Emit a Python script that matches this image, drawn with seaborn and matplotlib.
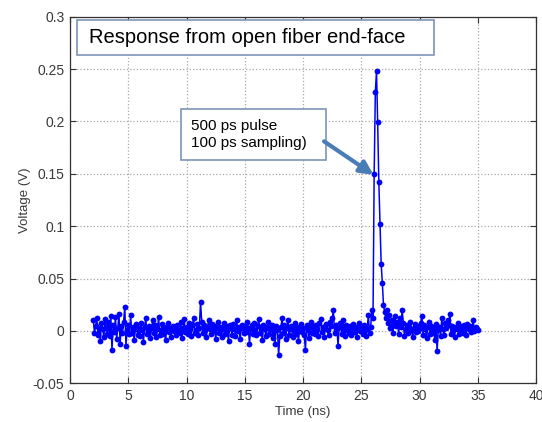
import numpy as np
import pandas as pd
import matplotlib
matplotlib.use("Agg")
import matplotlib.pyplot as plt
from matplotlib.patches import Rectangle
from matplotlib.ticker import FuncFormatter
import seaborn as sns

# sampling: 100 ps steps from 2 ns to 35 ns
t_start = 2.0
dt = 0.1

volt_mv = [
    10, -2, 5, 12, -4, 3, -10, 8, 2, -6,        # 2.x
    11, 4, -3, 9, -5, 14, -18, 6, -1, 13,       # 3.x
    -8, 3, 16, -12, 5, -2, 9, 23, -14, 1,       # 4.x
    6, -3, 15, -2, 4, -9, 2, 7, -4, 3,          # 5.x
    -5, 8, 1, -11, 4, 12, -3, 0, 5, -7,         # 6.x
    3, 10, -2, 6, -6, 2, 13, -4, 1, 7,          # 7.x
    -3, 4, -9, 2, 8, -1, 3, -6, 5, 0,           # 8.x
    2, -4, 6, 1, -2, 9, -7, 3, 11, -1,          # 9.x
    4, -3, 8, 2, -5, 6, 12, -2, 1, 7,           # 10.x
    -4, 3, 28, 9, -2, 6, 1, -6, 4, 10,          # 11.x
    2, -3, 7, 0, 5, -8, 3, 9, -2, 4,            # 12.x
    -6, 2, 8, -3, 5, 1, -10, 6, 3, -4,          # 13.x
    7, 2, -5, 10, 0, 4, -8, 3, 6, -2,           # 14.x
    5, -1, 9, 3, -12, 2, 6, -3, 8, 1,           # 15.x
    -4, 5, 11, -2, 3, -9, 6, 2, -5, 4,          # 16.x
    9, -3, 2, 6, -7, 3, -12, 5, 1, -23,         # 17.x
    -5, 4, 12, -2, 6, -8, 3, 10, -4, 2,         # 18.x
    5, -6, 1, 8, -3, 4, -10, 2, 7, -1,          # 19.x
    3, -4, -18, 6, 1, -7, 4, 9, -2, 5,          # 20.x
    -3, 6, 2, -5, 8, 11, -1, 4, -6, 3,          # 21.x
    7, 1, -4, 9, 5, 12, 20, -2, 6, 3,           # 22.x
    -14, 4, 8, -3, 10, 2, -5, 6, 1, -2,         # 23.x
    5, -4, 3, 7, -1, 4, -6, 2, 8, 0,            # 24.x
    3, -3, 6, 1, -5, 2, 15, -2, 4, 20,          # 25.x
    12, 150, 228, 248, 199, 142, 102, 64, 46, 25,  # 26.x (pulse)
    18, 12, 20, 8, 15, 3, 10, -2, 6, 14,        # 27.x
    5, 9, -3, 12, 4, 20, 8, -5, 2, 6,           # 28.x
    -2, 4, 9, 1, -6, 3, 7, -1, 5, 0,            # 29.x
    3, 8, 14, -4, 6, 2, -7, 4, 9, -3,           # 30.x
    5, -2, 3, -9, 7, -19, 1, 4, -5, 12,         # 31.x
    2, -4, 8, 3, 10, 6, 16, -3, 5, 1,           # 32.x
    -6, 4, 2, 8, -3, 5, 1, -2, 6, 3,            # 33.x
    -4, 7, 2, 5, -1, 3, 10, 0, 4, 2,            # 34.x
    1,                                          # 35.0
]

x_ticks = [0, 5, 10, 15, 20, 25, 30, 35, 40]
y_ticks = [-0.05, 0, 0.05, 0.1, 0.15, 0.2, 0.25, 0.3]

title_text = "Response from open fiber end-face"
note_text = "500 ps pulse\n100 ps sampling)"

df = pd.DataFrame({
    "time": t_start + dt * np.arange(len(volt_mv)),
    "volt": np.array(volt_mv) / 1000.0,
})

sns.set_theme(style="ticks")
plt.rcParams["font.family"] = ["Liberation Sans", "DejaVu Sans"]

fig = plt.figure(figsize=(5.42, 4.22), dpi=100)
ax = fig.add_axes([0.1292, 0.0917, 0.860, 0.8687])

sns.lineplot(data=df, x="time", y="volt", ax=ax, color="#0000ff",
             linewidth=1.1, marker="o", markersize=4.2, markeredgewidth=0,
             estimator=None, errorbar=None)

ax.set_xlim(0, 40)
ax.set_ylim(-0.05, 0.3)
ax.set_xticks(x_ticks)
ax.set_yticks(y_ticks)
ax.yaxis.set_major_formatter(FuncFormatter(lambda v, p: f"{v:g}"))
ax.tick_params(direction="in", length=4, width=0.8, top=True, right=True,
               labelsize=10, labelcolor="#3a3a3a", color="#333333", pad=4)
ax.grid(True, linestyle=":", color="#a8a8a8", linewidth=0.9)
for s in ax.spines.values():
    s.set_color("#333333")
    s.set_linewidth(0.9)

ax.set_xlabel("Time (ns)", fontsize=9.5, color="#3a3a3a", labelpad=2)
ax.set_ylabel("Voltage (V)", fontsize=9.5, color="#3a3a3a", labelpad=1)

# title box
ax.add_patch(Rectangle((0.015, 0.895), 0.765, 0.095, transform=ax.transAxes,
                       facecolor="white", edgecolor="#7d95b8", linewidth=1.2,
                       zorder=5))
ax.text(0.041, 0.9425, title_text, transform=ax.transAxes, fontsize=14.5,
        va="center", ha="left", color="black", zorder=6)

# note box
ax.add_patch(Rectangle((0.239, 0.610), 0.311, 0.137, transform=ax.transAxes,
                       facecolor="white", edgecolor="#7d95b8", linewidth=1.2,
                       zorder=5))
ax.text(0.26, 0.678, note_text, transform=ax.transAxes, fontsize=11,
        va="center", ha="left", color="black", linespacing=1.3, zorder=6)

ax.annotate("", xy=(26.05, 0.149), xytext=(21.8, 0.181),
            arrowprops=dict(arrowstyle="-|>", color="#4a7db5", lw=3.0,
                            mutation_scale=20, shrinkA=0, shrinkB=0),
            zorder=7)

fig.savefig("out.png", dpi=100)
